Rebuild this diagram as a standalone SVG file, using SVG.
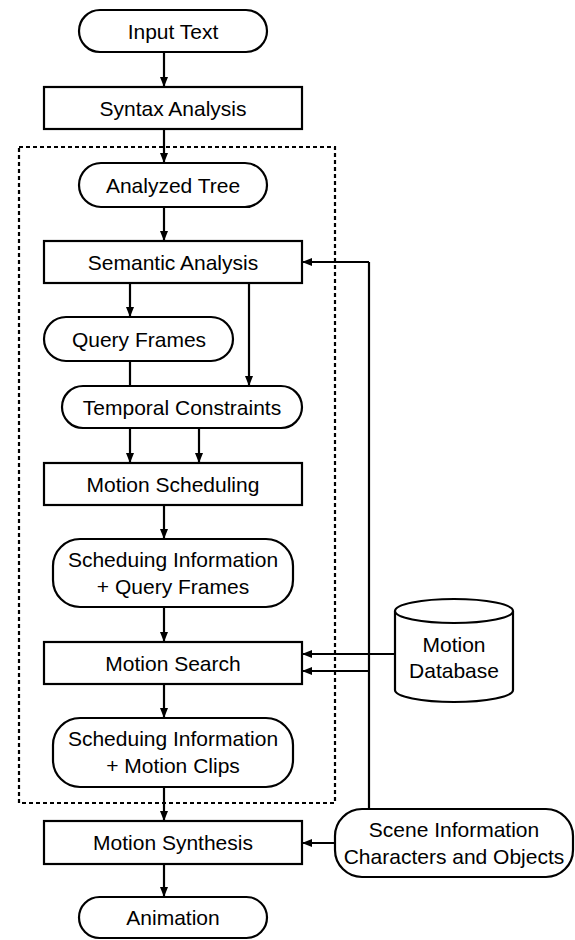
<svg xmlns="http://www.w3.org/2000/svg" width="575" height="940" viewBox="0 0 575 940">
<style>
  .box { fill: #fff; stroke: #000; stroke-width: 2.2; }
  .lbl { font-family: "Liberation Sans", Arial, sans-serif; font-size: 21px; fill: #000; text-anchor: middle; }
  .con { fill: none; stroke: #000; stroke-width: 2.2; }
  .arr { marker-end: url(#ah); }
  .dash { fill: none; stroke: #000; stroke-width: 2.2; stroke-dasharray: 4 3; }
</style>
<defs>
  <marker id="ah" markerUnits="userSpaceOnUse" markerWidth="11" markerHeight="9" refX="10" refY="4" orient="auto">
    <path d="M0,0 L10,4 L0,8 z" fill="#000"/>
  </marker>
</defs>
<rect width="575" height="940" fill="#fff"/>
<rect id="group-box" class="dash" x="19" y="147" width="316" height="656"/>
<g id="connectors">
  <line class="con arr" x1="164" y1="52" x2="164" y2="87"/>
  <line class="con arr" x1="164" y1="129" x2="164" y2="163"/>
  <line class="con arr" x1="164" y1="207" x2="164" y2="241"/>
  <line class="con arr" x1="130" y1="283" x2="130" y2="317"/>
  <line class="con arr" x1="249" y1="283" x2="249" y2="386"/>
  <line class="con" x1="130" y1="361" x2="130" y2="386"/>
  <line class="con arr" x1="130" y1="428" x2="130" y2="463"/>
  <line class="con arr" x1="199" y1="428" x2="199" y2="463"/>
  <line class="con arr" x1="164" y1="505" x2="164" y2="539"/>
  <line class="con arr" x1="164" y1="607" x2="164" y2="642"/>
  <line class="con arr" x1="164" y1="684" x2="164" y2="718"/>
  <line class="con arr" x1="164" y1="787" x2="164" y2="821"/>
  <line class="con arr" x1="164" y1="864" x2="164" y2="897"/>
  <line class="con" x1="369" y1="262" x2="369" y2="809"/>
  <line class="con arr" x1="369" y1="262" x2="302" y2="262"/>
  <line class="con arr" x1="395" y1="654" x2="302" y2="654"/>
  <line class="con arr" x1="369" y1="671" x2="302" y2="671"/>
  <line class="con arr" x1="335" y1="843" x2="302" y2="843"/>
</g>
<g id="input-text">
  <rect class="box" x="79" y="10" width="188" height="42" rx="21"/>
  <text class="lbl" x="173" y="38.5">Input Text</text>
</g>
<g id="syntax-analysis">
  <rect class="box" x="44" y="87" width="258" height="42"/>
  <text class="lbl" x="173" y="115.5">Syntax Analysis</text>
</g>
<g id="analyzed-tree">
  <rect class="box" x="79" y="163" width="188" height="44" rx="22"/>
  <text class="lbl" x="173" y="192.5">Analyzed Tree</text>
</g>
<g id="semantic-analysis">
  <rect class="box" x="44" y="241" width="258" height="42"/>
  <text class="lbl" x="173" y="269.5">Semantic Analysis</text>
</g>
<g id="query-frames">
  <rect class="box" x="44" y="317" width="189" height="44" rx="22"/>
  <text class="lbl" x="139" y="346.5">Query Frames</text>
</g>
<g id="temporal-constraints">
  <rect class="box" x="62" y="386" width="240" height="42" rx="21"/>
  <text class="lbl" x="182" y="414.5">Temporal Constraints</text>
</g>
<g id="motion-scheduling">
  <rect class="box" x="44" y="463" width="258" height="42"/>
  <text class="lbl" x="173" y="491.5">Motion Scheduling</text>
</g>
<g id="sched-query">
  <rect class="box" x="53" y="539" width="240" height="68" rx="27"/>
  <text class="lbl" x="173" y="566.5">Scheduing Information</text>
  <text class="lbl" x="173" y="593.5">+ Query Frames</text>
</g>
<g id="motion-search">
  <rect class="box" x="44" y="642" width="258" height="42"/>
  <text class="lbl" x="173" y="670.5">Motion Search</text>
</g>
<g id="sched-clips">
  <rect class="box" x="53" y="718" width="240" height="69" rx="27"/>
  <text class="lbl" x="173" y="746">Scheduing Information</text>
  <text class="lbl" x="173" y="773">+ Motion Clips</text>
</g>
<g id="motion-synthesis">
  <rect class="box" x="44" y="821" width="258" height="43"/>
  <text class="lbl" x="173" y="850">Motion Synthesis</text>
</g>
<g id="animation">
  <rect class="box" x="79" y="897" width="188" height="41" rx="20.5"/>
  <text class="lbl" x="173" y="925">Animation</text>
</g>
<g id="motion-database">
  <path class="box" d="M395,611 L395,690 A59,12 0 0 0 513,690 L513,611"/>
  <ellipse class="box" cx="454" cy="611" rx="59" ry="12"/>
  <text class="lbl" x="454" y="652">Motion</text>
  <text class="lbl" x="454" y="678">Database</text>
</g>
<g id="scene-information">
  <rect class="box" x="335" y="809" width="238" height="68" rx="27"/>
  <text class="lbl" x="454" y="837">Scene Information</text>
  <text class="lbl" x="454" y="864">Characters and Objects</text>
</g>
</svg>
